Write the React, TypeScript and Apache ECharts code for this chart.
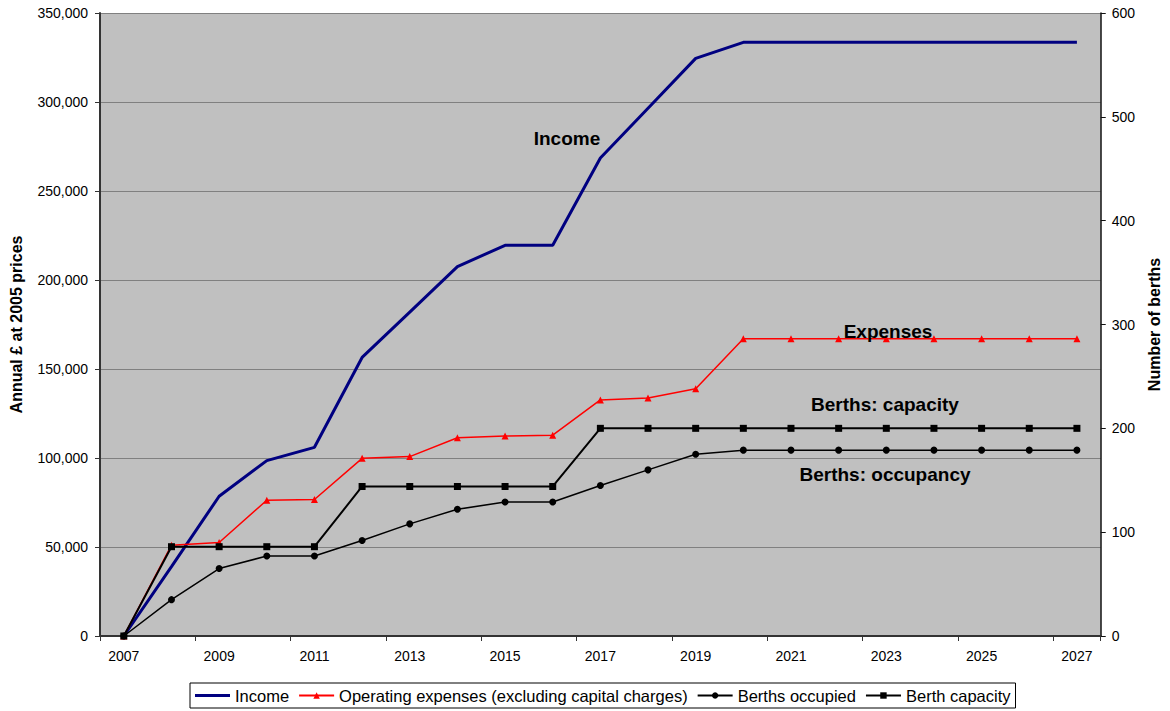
import React, { useEffect, useRef } from "react";
import * as echarts from "echarts";

const years = [
  "2007", "2008", "2009", "2010", "2011", "2012", "2013", "2014", "2015", "2016", "2017",
  "2018", "2019", "2020", "2021", "2022", "2023", "2024", "2025", "2026", "2027",
];

const income = [
  0, 39000, 78500, 98500, 106000, 156500, 182000, 207500, 219500, 219500, 268500,
  296500, 324500, 333500, 333500, 333500, 333500, 333500, 333500, 333500, 333500,
];

const expenses = [
  0, 51000, 52500, 76300, 76700, 99800, 100800, 111400, 112300, 112800, 132600,
  133700, 138900, 167000, 167000, 167000, 167000, 167000, 167000, 167000, 167000,
];

const berthsOccupied = [
  0, 35, 65, 77, 77, 92, 108, 122, 129, 129, 145,
  160, 175, 179, 179, 179, 179, 179, 179, 179, 179,
];

const berthCapacity = [
  0, 86, 86, 86, 86, 144, 144, 144, 144, 144, 200,
  200, 200, 200, 200, 200, 200, 200, 200, 200, 200,
];

const leftTicks = { min: 0, max: 350000, interval: 50000 };
const rightTicks = { min: 0, max: 600, interval: 100 };

const seriesNames = [
  "Income",
  "Operating expenses (excluding capital charges)",
  "Berths occupied",
  "Berth capacity",
];

const annotations = [
  { text: "Income", x: 567, y: 138 },
  { text: "Expenses", x: 888, y: 331 },
  { text: "Berths: capacity", x: 885, y: 404 },
  { text: "Berths: occupancy", x: 885, y: 474 },
];

const FONT = "'Liberation Sans', Arial, Helvetica, sans-serif";

export default function App() {
  const ref = useRef<HTMLDivElement>(null);

  useEffect(() => {
    if (!ref.current) return;
    const chart = echarts.init(ref.current, null, { renderer: "svg" });
    const axisLineDark = { show: true, lineStyle: { color: "#333333", width: 2 } };
    chart.setOption({
      animation: false,
      backgroundColor: "#ffffff",
      textStyle: { fontFamily: FONT },
      grid: {
        left: 100,
        right: 65,
        top: 13,
        bottom: 75,
        show: true,
        backgroundColor: "#C0C0C0",
        borderWidth: 0,
      },
      xAxis: {
        type: "category",
        data: years,
        boundaryGap: true,
        axisLine: axisLineDark,
        axisTick: { show: true, interval: 1, length: 5, inside: false, lineStyle: { color: "#333333", width: 1 } },
        axisLabel: { interval: 1, color: "#000", fontSize: 14, fontFamily: FONT, margin: 13 },
        splitLine: { show: false },
      },
      yAxis: [
        {
          type: "value",
          min: leftTicks.min,
          max: leftTicks.max,
          interval: leftTicks.interval,
          name: "Annual £ at 2005 prices",
          nameLocation: "middle",
          nameGap: 76,
          nameTextStyle: { fontSize: 16, fontWeight: "bold", color: "#000", fontFamily: FONT },
          axisLine: axisLineDark,
          axisTick: { show: true, length: 5, lineStyle: { color: "#333333" } },
          axisLabel: {
            color: "#000",
            fontSize: 14,
            fontFamily: FONT,
            margin: 12,
            formatter: (v: number) => v.toLocaleString("en-GB"),
          },
          splitLine: { show: true, lineStyle: { color: "#808080", width: 1 } },
        },
        {
          type: "value",
          min: rightTicks.min,
          max: rightTicks.max,
          interval: rightTicks.interval,
          position: "right",
          name: "Number of berths",
          nameLocation: "middle",
          nameGap: 41,
          nameRotate: 90,
          nameTextStyle: { fontSize: 16, fontWeight: "bold", color: "#000", fontFamily: FONT },
          axisLine: { show: true, lineStyle: { color: "#111111", width: 1.5 } },
          axisTick: { show: true, length: 5, lineStyle: { color: "#111111" } },
          axisLabel: { color: "#000", fontSize: 14, fontFamily: FONT, margin: 11 },
          splitLine: { show: false },
        },
      ],
      legend: {
        left: 190,
        bottom: 3,
        orient: "horizontal",
        itemWidth: 35,
        itemHeight: 8,
        itemGap: 9,
        padding: [3, 5, 3, 5],
        borderColor: "#000",
        borderWidth: 1,
        textStyle: { color: "#000", fontSize: 16.5, fontFamily: FONT, lineHeight: 19 },
        data: [
          { name: seriesNames[0], icon: "path://M0,0H35V3H0Z" },
          { name: seriesNames[1] },
          { name: seriesNames[2] },
          { name: seriesNames[3] },
        ],
      },
      series: [
        {
          name: seriesNames[0],
          type: "line",
          yAxisIndex: 0,
          data: income,
          symbol: "none",
          lineStyle: { color: "#000080", width: 3 },
          itemStyle: { color: "#000080" },
        },
        {
          name: seriesNames[1],
          type: "line",
          yAxisIndex: 0,
          data: expenses,
          symbol: "triangle",
          symbolSize: 7,
          lineStyle: { color: "#FF0000", width: 1.5 },
          itemStyle: { color: "#FF0000" },
        },
        {
          name: seriesNames[2],
          type: "line",
          yAxisIndex: 1,
          data: berthsOccupied,
          symbol: "circle",
          symbolSize: 7,
          lineStyle: { color: "#000000", width: 1.5 },
          itemStyle: { color: "#000000" },
        },
        {
          name: seriesNames[3],
          type: "line",
          yAxisIndex: 1,
          data: berthCapacity,
          symbol: "rect",
          symbolSize: 7,
          lineStyle: { color: "#000000", width: 2 },
          itemStyle: { color: "#000000" },
        },
      ],
      graphic: annotations.map((a) => ({
        type: "text",
        x: a.x,
        y: a.y,
        z: 100,
        style: {
          text: a.text,
          fontSize: 19,
          fontWeight: "bold",
          fontFamily: FONT,
          fill: "#000",
          textAlign: "center",
          textVerticalAlign: "middle",
        },
      })),
    });
    return () => chart.dispose();
  }, []);

  return (
    <div
      ref={ref}
      style={{ position: "absolute", left: 0, top: 0, width: 1170, height: 711 }}
    />
  );
}
